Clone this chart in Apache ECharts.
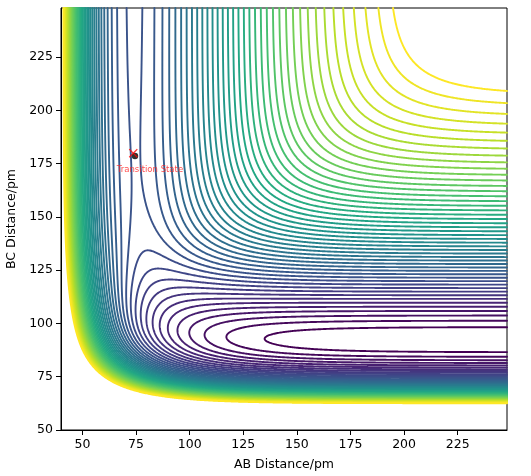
<!DOCTYPE html>
<html>
<head>
<meta charset="utf-8">
<script src="https://cdn.jsdelivr.net/npm/echarts@6/dist/echarts.min.js"></script>
<style>
html, body { margin: 0; padding: 0; background: #fff; }
#main { width: 531px; height: 476px; }
</style>
</head>
<body>
<div id="main"></div>
<script>
// LEPS surface for H + H + F (A-B = H-H, B-C = H-F, A-C = H-F)
// morse parameters, index 0 = H-H, index 1 = H-F
var pairDe = [458, 591];          // kJ/mol
var pairRe = [74.1, 92.0];        // pm
var pairBeta = [0.01942, 0.0222]; // 1/pm
var pairSato = [0.2, 0.17];

// contour levels, kJ/mol
var contourLevels = [-581, -570.5, -560, -549.5, -539, -528.5, -518, -507.5, -497, -486.5,
  -476, -465.5, -455, -444.5, -434, -423.5, -413, -402.5, -392, -381.5,
  -371, -360.5, -350, -339.5, -329, -318.5, -308, -297.5, -287, -276.5,
  -266, -255.5, -245, -234.5, -224, -213.5, -203, -192.5, -182, -171.5,
  -161, -150.5, -140, -129.5, -119, -108.5, -98, -87.5];

var xRange = [40, 248];
var yRange = [50, 248];
var tickValues = [50, 75, 100, 125, 150, 175, 200, 225];

// transition state annotation
var tsCross = [73.7, 179.9];
var tsDot = [74.5, 178.6];
var tsText = [81.5, 172];
var tsName = 'Transition State';

var gridStep = 0.5;

var viridis = ['#440154', '#482475', '#414487', '#355f8d', '#2a788e', '#21918c',
  '#22a884', '#44bf70', '#7ad151', '#bddf26', '#fde725'];

function hexRgb(h) {
  return [parseInt(h.substr(1, 2), 16), parseInt(h.substr(3, 2), 16), parseInt(h.substr(5, 2), 16)];
}
function cmap(t) {
  var p = t * (viridis.length - 1);
  var i = Math.min(Math.floor(p), viridis.length - 2);
  var f = p - i;
  var a = hexRgb(viridis[i]), b = hexRgb(viridis[i + 1]);
  return 'rgb(' + Math.round(a[0] + (b[0] - a[0]) * f) + ',' +
    Math.round(a[1] + (b[1] - a[1]) * f) + ',' + Math.round(a[2] + (b[2] - a[2]) * f) + ')';
}

function potential(rab, rbc) {
  var r = [rab, rbc, rab + rbc];
  var kind = [0, 1, 1];
  var Q = 0, J = [];
  for (var i = 0; i < 3; i++) {
    var p = kind[i];
    var e = Math.exp(-pairBeta[p] * (r[i] - pairRe[p]));
    var E1 = pairDe[p] * (e * e - 2 * e);
    var E3 = pairDe[p] / 2 * (e * e + 2 * e);
    var c = (1 - pairSato[p]) / (1 + pairSato[p]);
    Q += (E1 + E3 * c) / 2;
    J.push((E1 - E3 * c) / 2);
  }
  return Q - Math.sqrt(0.5 * ((J[0] - J[1]) * (J[0] - J[1]) + (J[1] - J[2]) * (J[1] - J[2]) + (J[2] - J[0]) * (J[2] - J[0])));
}

var xs = [], ys = [];
for (var v = xRange[0]; v <= xRange[1] + 1e-9; v += gridStep) xs.push(v);
for (v = yRange[0]; v <= yRange[1] + 1e-9; v += gridStep) ys.push(v);
var nx = xs.length, ny = ys.length;
var z = [];
for (var j = 0; j < ny; j++) {
  var row = [];
  for (var i = 0; i < nx; i++) row.push(potential(xs[i], ys[j]));
  z.push(row);
}

// marching squares, segments joined into polylines
function traceLevel(level) {
  var pts = new Map(), links = new Map();
  function hId(i, j) { return (j * nx + i) * 2; }
  function vId(i, j) { return (j * nx + i) * 2 + 1; }
  function point(id) {
    if (pts.has(id)) return;
    var k = id >> 1, i = k % nx, j = (k - i) / nx, t;
    if ((id & 1) === 0) {
      t = (level - z[j][i]) / (z[j][i + 1] - z[j][i]);
      pts.set(id, [xs[i] + t * (xs[i + 1] - xs[i]), ys[j]]);
    } else {
      t = (level - z[j][i]) / (z[j + 1][i] - z[j][i]);
      pts.set(id, [xs[i], ys[j] + t * (ys[j + 1] - ys[j])]);
    }
  }
  function link(a, b) {
    point(a); point(b);
    if (!links.has(a)) links.set(a, []);
    if (!links.has(b)) links.set(b, []);
    links.get(a).push(b);
    links.get(b).push(a);
  }
  for (var j = 0; j < ny - 1; j++) {
    for (var i = 0; i < nx - 1; i++) {
      var a = z[j][i], b = z[j][i + 1], c = z[j + 1][i + 1], d = z[j + 1][i];
      var A = a > level, B = b > level, C = c > level, D = d > level;
      var bot = hId(i, j), rgt = vId(i + 1, j), top = hId(i, j + 1), lft = vId(i, j);
      var ed = [];
      if (A !== B) ed.push(bot);
      if (B !== C) ed.push(rgt);
      if (C !== D) ed.push(top);
      if (D !== A) ed.push(lft);
      if (ed.length === 2) {
        link(ed[0], ed[1]);
      } else if (ed.length === 4) {
        var mid = (a + b + c + d) / 4 > level;
        if (A === mid) { link(bot, rgt); link(top, lft); }
        else { link(bot, lft); link(rgt, top); }
      }
    }
  }
  var used = new Set(), lines = [];
  function walk(start) {
    var line = [], prev = -1, cur = start;
    while (true) {
      used.add(cur);
      line.push(pts.get(cur));
      var nb = links.get(cur), next;
      next = undefined;
      for (var m = 0; m < nb.length; m++) {
        if (nb[m] !== prev && !used.has(nb[m])) { next = nb[m]; break; }
      }
      if (next === undefined) {
        if (nb.indexOf(start) >= 0 && line.length > 2) line.push(pts.get(start));
        break;
      }
      prev = cur; cur = next;
    }
    return line;
  }
  links.forEach(function (nb, id) {
    if (nb.length === 1 && !used.has(id)) lines.push(walk(id));
  });
  links.forEach(function (nb, id) {
    if (!used.has(id)) lines.push(walk(id));
  });
  return lines;
}

var lo = contourLevels[0], hi = contourLevels[contourLevels.length - 1];
var series = contourLevels.map(function (lev) {
  var col = cmap((lev - lo) / (hi - lo));
  return {
    type: 'lines',
    coordinateSystem: 'cartesian2d',
    polyline: true,
    silent: true,
    lineStyle: { color: col, width: 1.9, opacity: 1, cap: 'round', join: 'round' },
    data: traceLevel(lev).map(function (l) { return { coords: l }; })
  };
});

series.push({
  type: 'scatter',
  silent: true,
  symbol: 'circle',
  symbolSize: 6.5,
  itemStyle: { color: '#000' },
  data: [tsDot]
});
series.push({
  type: 'scatter',
  silent: true,
  symbol: 'path://M0,1L1,0L5,4L9,0L10,1L6,5L10,9L9,10L5,6L1,10L0,9L4,5Z',
  symbolSize: 9,
  itemStyle: { color: '#ff0000' },
  data: [tsCross]
});
series.push({
  type: 'scatter',
  silent: true,
  symbolSize: 0,
  data: [tsText],
  label: {
    show: true, position: 'inside', formatter: tsName,
    color: '#ff2020', fontSize: 8.5, fontFamily: 'DejaVu Sans'
  }
});

function axisOpt(range, name, gap) {
  return {
    type: 'value',
    min: range[0],
    max: range[1],
    name: name,
    nameGap: gap,
    nameLocation: 'middle',
    nameTextStyle: { color: '#000', fontSize: 12.5, fontFamily: 'DejaVu Sans' },
    axisLine: { show: true, onZero: false, lineStyle: { color: '#000', width: 1 } },
    axisTick: { show: true, length: 5, inside: false, customValues: tickValues, lineStyle: { color: '#000' } },
    axisLabel: { customValues: tickValues, color: '#000', fontSize: 12.5, fontFamily: 'DejaVu Sans', margin: 8 },
    splitLine: { show: false }
  };
}

var chart = echarts.init(document.getElementById('main'), null, { renderer: 'canvas' });
chart.setOption({
  animation: false,
  backgroundColor: '#fff',
  grid: {
    left: 61, right: 24, top: 8, bottom: 46,
    containLabel: false, outerBoundsMode: 'none',
    show: true, borderColor: '#000', borderWidth: 1, backgroundColor: 'transparent'
  },
  xAxis: axisOpt(xRange, 'AB Distance/pm', 28),
  yAxis: axisOpt(yRange, 'BC Distance/pm', 41),
  series: series
});
</script>
</body>
</html>
